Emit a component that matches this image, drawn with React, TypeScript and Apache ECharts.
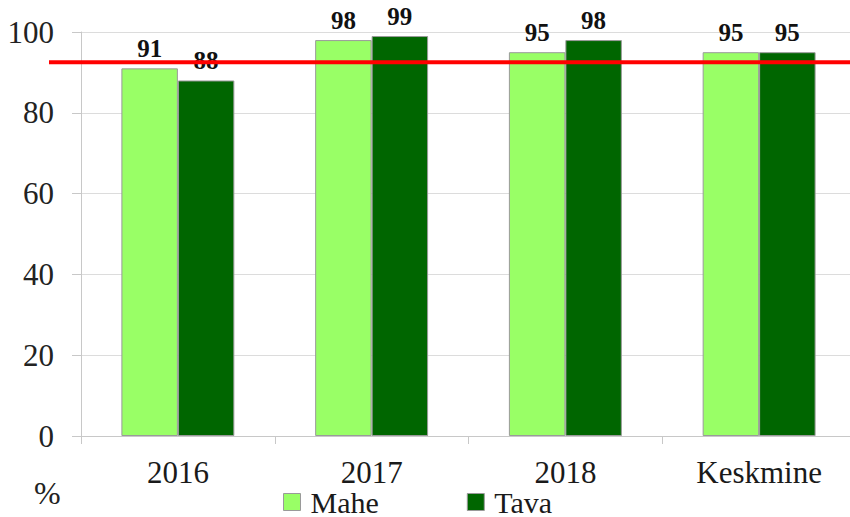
import React, { useEffect, useRef } from "react";
import * as echarts from "echarts";

const categories = ["2016", "2017", "2018", "Keskmine"];
const maheValues = [91, 98, 95, 95];
const tavaValues = [88, 99, 98, 95];
const seriesNames = ["Mahe", "Tava"];
const threshold = 92.5;
const yTicks = { min: 0, max: 100, interval: 20 };

const FONT = "Liberation Serif, Times New Roman, serif";

export default function App() {
  const ref = useRef<HTMLDivElement>(null);
  useEffect(() => {
    document.body.style.margin = "0";
    if (!ref.current) return;
    const chart = echarts.init(ref.current, null, { renderer: "svg" });
    const labelStyle = {
      show: true,
      position: "top" as const,
      distance: 7,
      fontFamily: FONT,
      fontWeight: "bold" as const,
      fontSize: 25,
      color: "#111",
    };
    chart.setOption({
      animation: false,
      textStyle: { fontFamily: FONT },
      grid: {
        left: 81,
        width: 775,
        top: 32,
        bottom: 81,
        containLabel: false,
        outerBoundsMode: "none",
      },
      legend: {
        data: seriesNames,
        top: 487,
        left: 283,
        padding: 0,
        itemWidth: 17,
        itemHeight: 17,
        itemGap: 88,
        textStyle: {
          fontFamily: FONT,
          fontSize: 30,
          lineHeight: 30,
          color: "#1a1a1a",
          padding: [0, 0, 0, 5],
        },
        icon: "rect",
        itemStyle: { borderColor: "#9a9a9a", borderWidth: 1 },
      },
      xAxis: {
        type: "category",
        data: categories,
        axisLine: { lineStyle: { color: "#c8c8c8" } },
        axisTick: { show: true, length: 8, lineStyle: { color: "#c8c8c8" } },
        axisLabel: { fontFamily: FONT, fontSize: 31, color: "#1a1a1a", margin: 21 },
      },
      yAxis: {
        type: "value",
        min: yTicks.min,
        max: yTicks.max,
        interval: yTicks.interval,
        axisLine: { show: true, lineStyle: { color: "#c8c8c8" } },
        axisTick: { show: true, length: 9, lineStyle: { color: "#c8c8c8" } },
        splitLine: { lineStyle: { color: "#dcdcdc" } },
        axisLabel: { fontFamily: FONT, fontSize: 31, color: "#222", margin: 27 },
      },
      series: [
        {
          name: seriesNames[0],
          type: "bar",
          data: maheValues,
          barGap: "0%",
          barCategoryGap: "41.7%",
          itemStyle: { color: "#99ff66", borderColor: "#9a9a9a", borderWidth: 1 },
          label: labelStyle,
        },
        {
          name: seriesNames[1],
          type: "bar",
          data: tavaValues,
          itemStyle: { color: "#006600", borderColor: "#9a9a9a", borderWidth: 1 },
          label: labelStyle,
        },
      ],
    });
    const y = chart.convertToPixel({ yAxisIndex: 0 }, threshold) as number;
    chart.setOption({
      graphic: [
        {
          type: "line",
          z: 100,
          shape: { x1: 49, y1: y, x2: 850, y2: y },
          style: { stroke: "#ff0000", lineWidth: 4 },
        },
        {
          type: "text",
          left: 34,
          top: 477,
          style: { text: "%", fontFamily: FONT, fontSize: 32, fill: "#222" },
        },
      ],
    });
    return () => chart.dispose();
  }, []);
  return <div ref={ref} style={{ width: 850, height: 517 }} />;
}
